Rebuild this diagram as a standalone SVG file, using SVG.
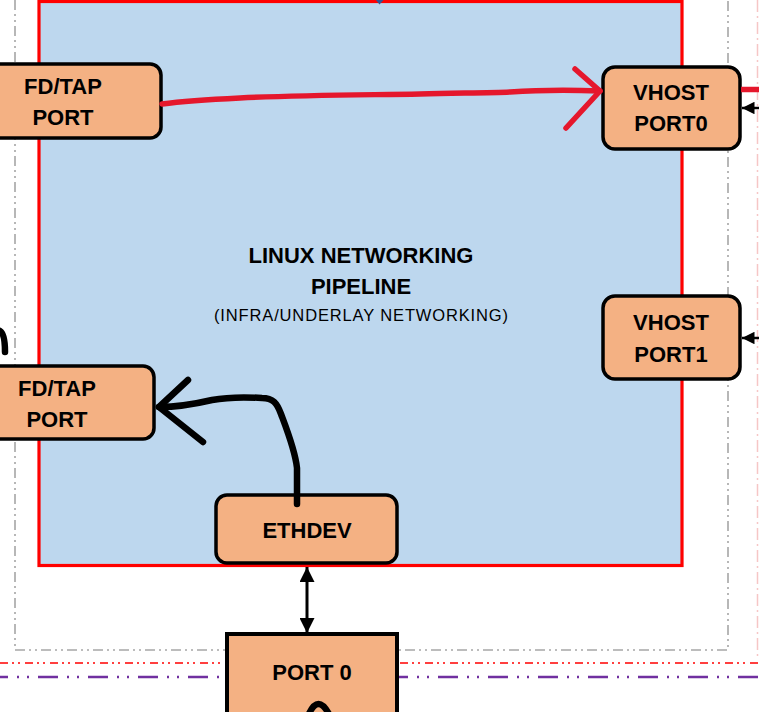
<svg xmlns="http://www.w3.org/2000/svg" width="759" height="712" viewBox="0 0 759 712">
<style>
.box{fill:#F4B183;stroke:#000;stroke-width:3.5}
.lbl{font-family:"Liberation Sans",Arial,sans-serif;font-weight:bold;font-size:22px;fill:#000;text-anchor:middle}
.sub{font-family:"Liberation Sans",Arial,sans-serif;font-size:16.5px;fill:#000;text-anchor:middle}
.blk{fill:none;stroke:#000;stroke-width:6.5;stroke-linecap:round;stroke-linejoin:round}
.red{fill:none;stroke:#E5172C;stroke-width:5.5;stroke-linecap:round;stroke-linejoin:round}
</style>
<defs>
<marker id="ah" viewBox="0 0 10 10" refX="10" refY="5" markerWidth="5" markerHeight="5" orient="auto-start-reverse" markerUnits="strokeWidth">
<path d="M0,0 L10,5 L0,10 z" fill="#000"/>
</marker>
</defs>
<rect width="759" height="712" fill="#fff"/>
<g id="background-lines">
<path d="M15 0 L15 650 L728 650 L728 0" fill="none" stroke="#A6A6A6" stroke-width="1.6" stroke-dasharray="10 4 2 4 2 4"/>
<line x1="757.5" y1="0" x2="757.5" y2="660" stroke="#F6C6C6" stroke-width="1.5" stroke-dasharray="12 4 2 4"/>
<line x1="0" y1="663" x2="759" y2="663" stroke="#FF0000" stroke-width="1.6" stroke-dasharray="8 4 2 4 2 5"/>
<line x1="0" y1="677" x2="759" y2="677" stroke="#7030A0" stroke-width="2.6" stroke-dasharray="20 9 2 8 2 9" stroke-dashoffset="12"/>
</g>
<g id="linux-pipeline">
<rect x="39" y="1.5" width="643" height="564" fill="#BDD7EE" stroke="#FF0000" stroke-width="3.2"/>
<polygon points="376,0 383.5,0 379.5,4.5" fill="#2F5597"/>
<text class="lbl" x="361" y="263">LINUX NETWORKING</text>
<text class="lbl" x="361" y="294">PIPELINE</text>
<text class="sub" x="361" y="321" textLength="294" lengthAdjust="spacing">(INFRA/UNDERLAY NETWORKING)</text>
</g>
<g id="fdtap-port-top">
<rect class="box" x="-20" y="64" width="181" height="74" rx="11"/>
<text class="lbl" x="63" y="94">FD/TAP</text>
<text class="lbl" x="63" y="125">PORT</text>
</g>
<g id="fdtap-port-bottom">
<rect class="box" x="-20" y="366" width="174" height="73" rx="11"/>
<text class="lbl" x="57" y="396">FD/TAP</text>
<text class="lbl" x="57" y="427">PORT</text>
</g>
<g id="vhost-port0">
<rect class="box" x="603" y="67" width="137" height="82" rx="12"/>
<text class="lbl" x="671" y="100">VHOST</text>
<text class="lbl" x="671" y="131">PORT0</text>
</g>
<g id="vhost-port1">
<rect class="box" x="603" y="296" width="137" height="83" rx="12"/>
<text class="lbl" x="671" y="330">VHOST</text>
<text class="lbl" x="671" y="362">PORT1</text>
</g>
<g id="ethdev">
<rect class="box" x="216" y="495" width="181" height="68" rx="11"/>
<text class="lbl" x="307" y="538">ETHDEV</text>
</g>
<g id="port0">
<rect x="227" y="634" width="170" height="90" fill="#F4B183" stroke="#000" stroke-width="4"/>
<text class="lbl" x="312" y="680">PORT 0</text>
</g>
<g id="connectors">
<path class="red" d="M162 104 C185 101 200 100 240 98 C300 95 360 95 420 94 C460 93 490 93 510 92 C540 90 570 90 600 91"/>
<path class="red" d="M575 69 L600 91 L566 128"/>
<line x1="741" y1="89.5" x2="759" y2="89.5" stroke="#E5172C" stroke-width="5.5"/>
<path class="blk" d="M297 504 L297 468 C295 450 287 430 281 414 C277 403 273 398 262 398 C245 397 228 397 212 400 C195 404 180 407 159 407"/>
<path class="blk" d="M188 380 L159 407 L203 442"/>
<path class="blk" d="M0 331 Q5 334 5 352"/>
<path class="blk" d="M308 716 Q318 692 330 716"/>
<line x1="307" y1="567" x2="307" y2="633" stroke="#000" stroke-width="3" marker-start="url(#ah)" marker-end="url(#ah)"/>
<line x1="759" y1="108" x2="742" y2="108" stroke="#000" stroke-width="2.5" marker-end="url(#ah)"/>
<line x1="759" y1="338" x2="742" y2="338" stroke="#000" stroke-width="2.5" marker-end="url(#ah)"/>
</g>
</svg>
